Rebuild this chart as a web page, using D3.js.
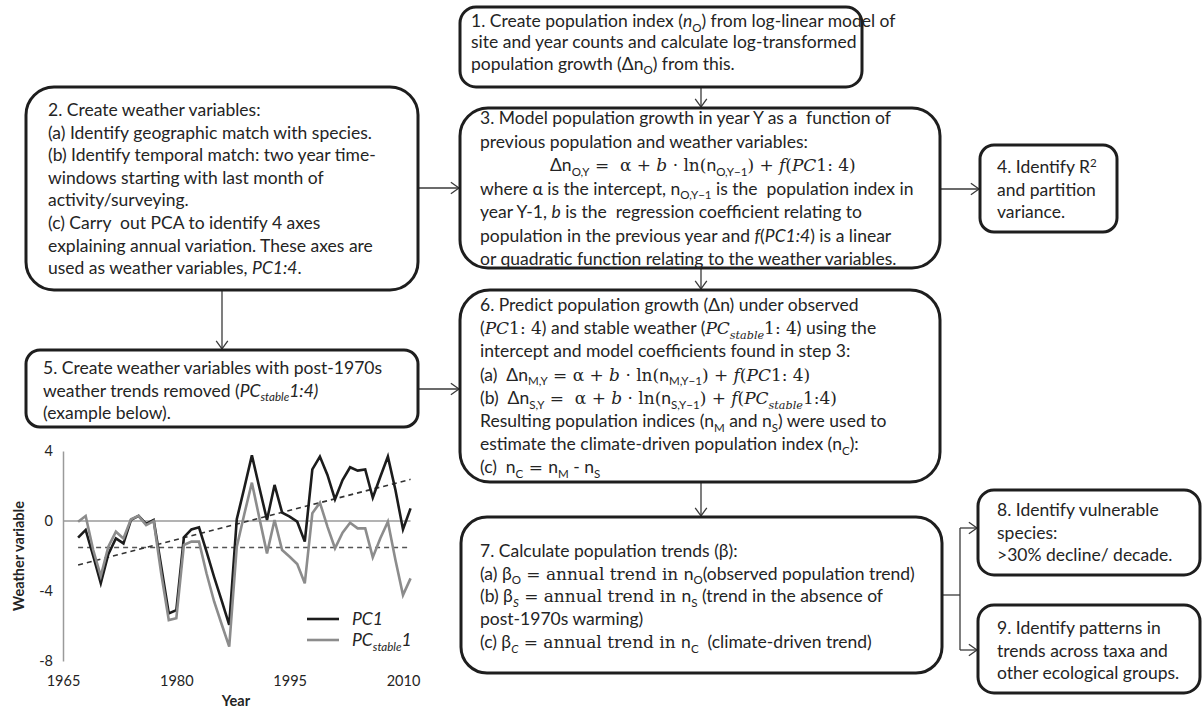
<!DOCTYPE html>
<html>
<head>
<meta charset="utf-8">
<script src="https://cdn.jsdelivr.net/npm/d3@7"></script>
<style>
  html, body { margin: 0; padding: 0; background: #fff; }
  svg { display: block; }
  text { white-space: pre; }
</style>
</head>
<body>
<svg id="fig" width="1203" height="708"></svg>
<script>
// ---------------- Example weather variable (PC1) and its detrended version ----------------
const years = [1967, 1968, 1969, 1970, 1971, 1972, 1973, 1974, 1975, 1976,
               1977, 1978, 1979, 1980, 1981, 1982, 1983, 1984, 1985, 1986,
               1987, 1988, 1989, 1990, 1991, 1992, 1993, 1994, 1995, 1996,
               1997, 1998, 1999, 2000, 2001, 2002, 2003, 2004, 2005, 2006,
               2007, 2008, 2009, 2010, 2011];
const pc1 = [-0.95, -0.51, -2.0, -3.56, -1.9, -1.0, -1.28, 0.06, 0.29, -0.17,
             0.06, -2.6, -5.28, -5.09, -0.93, -0.48, -0.36, -1.75, -3.2, -4.55,
             -5.94, 0.1, 1.9, 3.75, 1.89, 0.06, 2.06, 0.48, 0.25, -0.04,
             -1.18, 2.95, 3.68, 2.63, 1.24, 2.34, 3.07, 2.88, 2.95, 1.33,
             2.53, 3.68, 1.77, -0.48, 0.72];
const pcStable = [-0.04, 0.29, -1.66, -3.15, -1.47, -0.61, -1.0, 0.1, 0.29, -0.23,
                  0.0, -3.0, -5.66, -5.56, -1.37, -1.18, -1.18, -3.0, -4.6, -5.9,
                  -7.18, -1.47, 0.4, 2.19, 0.15, -1.85, 0.06, -1.66, -2.04, -2.46,
                  -3.56, 0.44, 1.05, -0.32, -1.56, -0.67, -0.1, -0.42, -0.42, -2.08,
                  -0.99, -0.04, -2.23, -4.23, -3.28];
// fitted linear trend of PC1 (start, end) and mean of the detrended series
const trendYears = [1967, 2011];
const pc1Trend = [-2.51, 2.38];
const pcStableMean = [-1.52, -1.52];
const yTicks = [-8, -4, 0, 4];
const xTicks = [1965, 1980, 1995, 2010];

// ---------------- Flowchart step texts ----------------
// segment prefixes: i~ italic, m~ math serif, s~ subscript, p~ superscript
const step1 = [
  ["1. Create population index (", "i~n", "s~O", ") from log-linear model of"],
  ["site and year counts and calculate log-transformed"],
  ["population growth (Δn", "s~O", ") from this."]
];
const step2 = [
  ["2. Create weather variables:"],
  ["(a) Identify geographic match with species."],
  ["(b) Identify temporal match: two year time-"],
  ["windows starting with last month of"],
  ["activity/surveying."],
  ["(c) Carry  out PCA to identify 4 axes"],
  ["explaining annual variation. These axes are"],
  ["used as weather variables, ", "i~PC1:4", "."]
];
const step3 = [
  ["3. Model population growth in year Y as a  function of"],
  ["previous population and weather variables:"],
  ["Δn", "s~O,Y", "m~ =  α + ", "mi~b", "m~ · ln(", "n", "s~O,Y−1", "m~) + ", "mi~f", "m~(", "mi~PC", "m~1: 4)"],
  ["where α is the intercept, n", "s~O,Y−1", " is the  population index in"],
  ["year Y-1, ", "i~b", " is the  regression coefficient relating to"],
  ["population in the previous year and ", "i~f", "(", "i~PC1:4", ") is a linear"],
  ["or quadratic function relating to the weather variables."]
];
const step4 = [
  ["4. Identify R", "p~2"],
  ["and partition"],
  ["variance."]
];
const step5 = [
  ["5. Create weather variables with post-1970s"],
  ["weather trends removed (", "i~PC", "si~stable", "i~1:4)"],
  ["(example below)."]
];
const step6 = [
  ["6. Predict population growth (Δn) under observed"],
  ["(", "mi~PC", "m~1: 4", ") and stable weather (", "mi~PC", "msi~stable", "m~1: 4", ") using the"],
  ["intercept and model coefficients found in step 3:"],
  ["(a)  Δn", "s~M,Y", "m~ = α + ", "mi~b", "m~ · ln(", "n", "s~M,Y−1", "m~) + ", "mi~f", "m~(", "mi~PC", "m~1: 4)"],
  ["(b)  Δn", "s~S,Y", "m~ =  α + ", "mi~b", "m~ · ln(", "n", "s~S,Y−1", "m~) + ", "mi~f", "m~(", "mi~PC", "msi~stable", "m~1:4)"],
  ["Resulting population indices (n", "s~M", " and n", "s~S", ") were used to"],
  ["estimate the climate-driven population index (n", "s~C", "):"],
  ["(c)  n", "s~C", "m~ = ", "n", "s~M", " - n", "s~S"]
];
const step7 = [
  ["7. Calculate population trends (β):"],
  ["(a) β", "s~O", "m~ = annual trend in ", "n", "s~O", "(observed population trend)"],
  ["(b) β", "si~S", "m~ = annual trend in ", "n", "s~S", " (trend in the absence of"],
  ["post-1970s warming)"],
  ["(c) β", "si~C", "m~ = annual trend in ", "n", "s~C", "  (climate-driven trend)"]
];
const step8 = [
  ["8. Identify vulnerable"],
  ["species:"],
  [">30% decline/ decade."]
];
const step9 = [
  ["9. Identify patterns in"],
  ["trends across taxa and"],
  ["other ecological groups."]
];

// ---------------- Drawing ----------------
const FONT = "Lato, 'Open Sans', sans-serif";
const SERIF = "'DejaVu Serif', 'Liberation Serif', serif";
const TEXT_SIZE = 17.5;
const SERIF_SCALE = 0.97;
const INK = "#242424";

const svg = d3.select("#fig");
svg.append("rect").attr("width", 1203).attr("height", 708).attr("fill", "#fff");

function richLine(g, parts, yBase, size) {
  const t = g.append("text")
    .attr("x", 0).attr("y", yBase)
    .attr("font-family", FONT).attr("font-size", size).attr("fill", INK);
  let shift = 0;
  parts.forEach(p => {
    let flags = "", txt = p;
    const m = p.match(/^([misp]+)~([\s\S]*)$/);
    if (m) { flags = m[1]; txt = m[2]; }
    const sub = flags.includes("s"), sup = flags.includes("p");
    const target = sub ? size * 0.27 : sup ? -size * 0.36 : 0;
    const ts = t.append("tspan").text(txt);
    if (target !== shift) { ts.attr("dy", target - shift); shift = target; }
    let fs = size;
    if (flags.includes("m")) { ts.attr("font-family", SERIF); fs = size * SERIF_SCALE; }
    if (sub || sup) fs *= 0.66;
    ts.attr("font-size", fs);
    if (flags.includes("i")) ts.attr("font-style", "italic");
  });
  return t;
}

function textBlock(lines, tx, firstBase, step, opts = {}) {
  const g = svg.append("g").attr("transform", `translate(${tx},0)`);
  lines.forEach((ln, i) => {
    const t = richLine(g, ln, firstBase + i * step, TEXT_SIZE);
    if (opts.indent && opts.indent[i]) t.attr("x", opts.indent[i]);
  });
  return g;
}

function box(x0, y0, w, h, r) {
  svg.append("rect")
    .attr("x", x0).attr("y", y0).attr("width", w).attr("height", h)
    .attr("rx", r).attr("ry", r)
    .attr("fill", "#fff").attr("stroke", "#1e1e1e").attr("stroke-width", 3);
}

const conn = svg.append("g").attr("stroke", "#3a3a3a").attr("stroke-width", 1.3).attr("fill", "none");
function segment(x1, y1, x2, y2) {
  conn.append("line").attr("x1", x1).attr("y1", y1).attr("x2", x2).attr("y2", y2);
}
function arrow(x1, y1, x2, y2) {
  segment(x1, y1, x2, y2);
  const a = Math.atan2(y2 - y1, x2 - x1), L = 10, W = 0.62;
  conn.append("path").attr("d",
    `M${x2 - L * Math.cos(a - W)},${y2 - L * Math.sin(a - W)}L${x2},${y2}L${x2 - L * Math.cos(a + W)},${y2 - L * Math.sin(a + W)}`);
}

// connectors
arrow(701, 87, 701, 107);
arrow(418, 188, 459, 188);
arrow(941, 189, 979, 189);
arrow(701, 268, 701, 289);
arrow(222, 290, 222, 349);
arrow(418, 389, 459, 389);
arrow(701, 482, 701, 516);
segment(942, 595, 960, 595);
segment(960, 528, 960, 650);
arrow(960, 528, 977, 528);
arrow(960, 650, 977, 650);

// boxes
box(460, 7, 402, 80, 16);
box(26, 87, 392, 203, 28);
box(460, 108, 480, 160, 28);
box(980, 145, 137, 87, 14);
box(26, 350, 392, 77, 14);
box(460, 290, 480, 192, 30);
box(461, 517, 481, 156, 26);
box(978, 490, 222, 85, 16);
box(978, 605, 222, 88, 16);

// box texts
textBlock(step1, 471, 27, 21.3);
textBlock(step2, 48, 116, 22.6);
textBlock(step3, 480, 124, 23.5, { indent: [0, 0, 70] });
textBlock(step4, 997, 173, 22.5);
textBlock(step5, 43, 374, 22.5);
textBlock(step6, 480, 311, 23.2);
textBlock(step7, 480, 557, 22.7);
textBlock(step8, 997, 516, 22.5);
textBlock(step9, 997, 634, 22.5);

// ---------------- Line chart ----------------
const x = d3.scaleLinear().domain([1965, 2010]).range([63, 403]);
const y = d3.scaleLinear().domain([-8, 4]).range([661, 451]);
const chart = svg.append("g");

chart.append("line")
  .attr("x1", x(1965)).attr("x2", x(2011))
  .attr("y1", y(0)).attr("y2", y(0))
  .attr("stroke", "#9a9a9a").attr("stroke-width", 1.5);

const yAxis = chart.append("g")
  .attr("transform", `translate(${x(1965)},0)`)
  .call(d3.axisLeft(y).tickValues(yTicks).tickSize(0).tickSizeOuter(0).tickPadding(10).tickFormat(d => String(d)));
yAxis.select(".domain").attr("stroke", "#9a9a9a").attr("stroke-width", 1.5);
yAxis.selectAll("text").attr("font-family", FONT).attr("font-size", 14.5).attr("fill", INK);

const xAxis = chart.append("g")
  .attr("transform", `translate(0,${y(-8)})`)
  .call(d3.axisBottom(x).tickValues(xTicks).tickSize(0).tickPadding(15).tickFormat(d => String(d)));
xAxis.select(".domain").remove();
xAxis.selectAll("text").attr("font-family", FONT).attr("font-size", 14.5).attr("fill", INK);

const dashed = d3.line().x((d, i) => x(trendYears[i])).y(d => y(d));
chart.append("path").datum(pcStableMean).attr("d", dashed)
  .attr("fill", "none").attr("stroke", "#555").attr("stroke-width", 1.5).attr("stroke-dasharray", "5,4");
chart.append("path").datum(pc1Trend).attr("d", dashed)
  .attr("fill", "none").attr("stroke", "#333").attr("stroke-width", 1.6).attr("stroke-dasharray", "5,4");

const series = d3.line().x((d, i) => x(years[i])).y(d => y(d));
chart.append("path").datum(pc1).attr("d", series)
  .attr("fill", "none").attr("stroke", "#1c1c1c").attr("stroke-width", 2.6).attr("stroke-linejoin", "miter");
chart.append("path").datum(pcStable).attr("d", series)
  .attr("fill", "none").attr("stroke", "#8c8c8c").attr("stroke-width", 2.6).attr("stroke-linejoin", "miter");

// axis titles
chart.append("text")
  .attr("transform", `translate(24,${y(-2)}) rotate(-90)`)
  .attr("text-anchor", "middle")
  .attr("font-family", FONT).attr("font-weight", "bold").attr("font-size", 14.5).attr("fill", INK)
  .text("Weather variable");
chart.append("text")
  .attr("x", 236).attr("y", 706)
  .attr("text-anchor", "middle")
  .attr("font-family", FONT).attr("font-weight", "bold").attr("font-size", 14.5).attr("fill", INK)
  .text("Year");

// legend
const legend = chart.append("g");
legend.append("line").attr("x1", 307).attr("x2", 339).attr("y1", 619).attr("y2", 619)
  .attr("stroke", "#1c1c1c").attr("stroke-width", 2.6);
legend.append("line").attr("x1", 307).attr("x2", 339).attr("y1", 640).attr("y2", 640)
  .attr("stroke", "#8c8c8c").attr("stroke-width", 2.6);
const lg1 = legend.append("g").attr("transform", "translate(352,0)");
richLine(lg1, ["i~PC1"], 625, 17.5);
const lg2 = legend.append("g").attr("transform", "translate(352,0)");
richLine(lg2, ["i~PC", "si~stable", "i~1"], 646, 17.5);
</script>
</body>
</html>
